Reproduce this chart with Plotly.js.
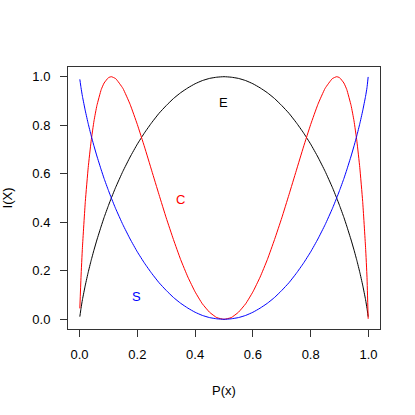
<!DOCTYPE html>
<html>
<head>
<meta charset="utf-8">
<script src="https://cdn.plot.ly/plotly-3.0.1.min.js"></script>
<style>
    html, body { margin: 0; padding: 0; background: white; }
    #chart { width: 415px; height: 415px; }
</style>
</head>
<body>
<div id="chart"></div>
<script>
// values
let px = [0.001, 0.005, 0.01, 0.02, 0.03, 0.04, 0.05, 0.06, 0.075, 0.085, 0.1, 0.11, 0.125, 0.15, 0.175, 0.2, 0.225, 0.25, 0.275, 0.3, 0.325, 0.35, 0.375, 0.4, 0.425, 0.45, 0.475, 0.5,
    0.525, 0.55, 0.575, 0.6, 0.625, 0.65, 0.675, 0.7, 0.725, 0.75, 0.775, 0.8, 0.825, 0.85, 0.875, 0.89, 0.9, 0.915, 0.925, 0.94, 0.95, 0.96, 0.97, 0.98, 0.99, 0.995, 0.999]

let valuesE = [0.011, 0.045, 0.081, 0.141, 0.194, 0.242, 0.286, 0.327, 0.384, 0.420, 0.469, 0.500, 0.544, 0.610, 0.669, 0.722, 0.769, 0.811, 0.849, 0.881, 0.910, 0.934, 0.954, 0.971, 0.984, 0.993, 0.998, 1.000,
    0.998, 0.993, 0.984, 0.971, 0.954, 0.934, 0.910, 0.881, 0.849, 0.811, 0.769, 0.722, 0.669, 0.610, 0.544, 0.500, 0.469, 0.420, 0.384, 0.327, 0.286, 0.242, 0.194, 0.141, 0.081, 0.045, 0.011]

let valuesS = [0.989, 0.955, 0.919, 0.859, 0.806, 0.758, 0.714, 0.673, 0.616, 0.580, 0.531, 0.500, 0.456, 0.390, 0.331, 0.278, 0.231, 0.189, 0.151, 0.119, 0.090, 0.066, 0.046, 0.029, 0.016, 0.007, 0.002, 0.000,
    0.002, 0.007, 0.016, 0.029, 0.046, 0.066, 0.090, 0.119, 0.151, 0.189, 0.231, 0.278, 0.331, 0.390, 0.456, 0.500, 0.531, 0.580, 0.616, 0.673, 0.714, 0.758, 0.806, 0.859, 0.919, 0.955, 0.999]

let valuesC = [0.045, 0.173, 0.297, 0.486, 0.626, 0.734, 0.818, 0.881, 0.947, 0.974, 0.996, 1.000, 0.992, 0.952, 0.886, 0.803, 0.710, 0.612, 0.514, 0.418, 0.329, 0.246, 0.174, 0.113, 0.064, 0.029, 0.007, 0.000,
    0.007, 0.029, 0.064, 0.113, 0.174, 0.246, 0.329, 0.418, 0.514, 0.612, 0.710, 0.803, 0.886, 0.952, 0.992, 1.000, 0.996, 0.974, 0.947, 0.881, 0.818, 0.734, 0.626, 0.486, 0.297, 0.173, 0.002]

let labels = ['E', 'C', 'S']
let labelX = [0.498, 0.35, 0.198]
let labelY = [0.895, 0.495, 0.095]
let colours = ['black', '#FF0000', '#0000FF']

let tickVals = [0, 0.2, 0.4, 0.6, 0.8, 1.0]

let traces = [valuesE, valuesC, valuesS].map((vals, i) => ({
    x: px,
    y: vals,
    type: 'scatter',
    mode: 'lines',
    line: { color: colours[i], width: 1, shape: 'spline', smoothing: 0.4 },
    hoverinfo: 'skip'
}))

let axisCommon = {
    range: [-0.04, 1.04],
    tickmode: 'array',
    tickvals: tickVals,
    tickformat: '.1f',
    ticks: 'outside',
    ticklen: 7,
    tickcolor: '#333',
    tickwidth: 1,
    showline: true,
    mirror: true,
    linecolor: '#333',
    linewidth: 1,
    showgrid: false,
    zeroline: false,
    tickfont: { size: 13, color: 'black' }
}

let layout = {
    width: 415,
    height: 415,
    margin: { t: 67, b: 86, l: 68, r: 35 },
    paper_bgcolor: 'white',
    plot_bgcolor: 'white',
    showlegend: false,
    font: { family: 'Liberation Sans, Arial, sans-serif', size: 13, color: 'black' },
    xaxis: { ...axisCommon, ticklabelstandoff: 6, title: { text: 'P(x)', standoff: 25, font: { size: 13 } } },
    yaxis: { ...axisCommon, ticklabelstandoff: 7, title: { text: 'I(X)', standoff: 22, font: { size: 13 } } },
    annotations: labels.map((t, i) => ({
        x: labelX[i],
        y: labelY[i],
        xref: 'x',
        yref: 'y',
        text: t,
        showarrow: false,
        font: { size: 13, color: colours[i] }
    }))
}

Plotly.newPlot('chart', traces, layout, { staticPlot: true })
</script>
</body>
</html>
